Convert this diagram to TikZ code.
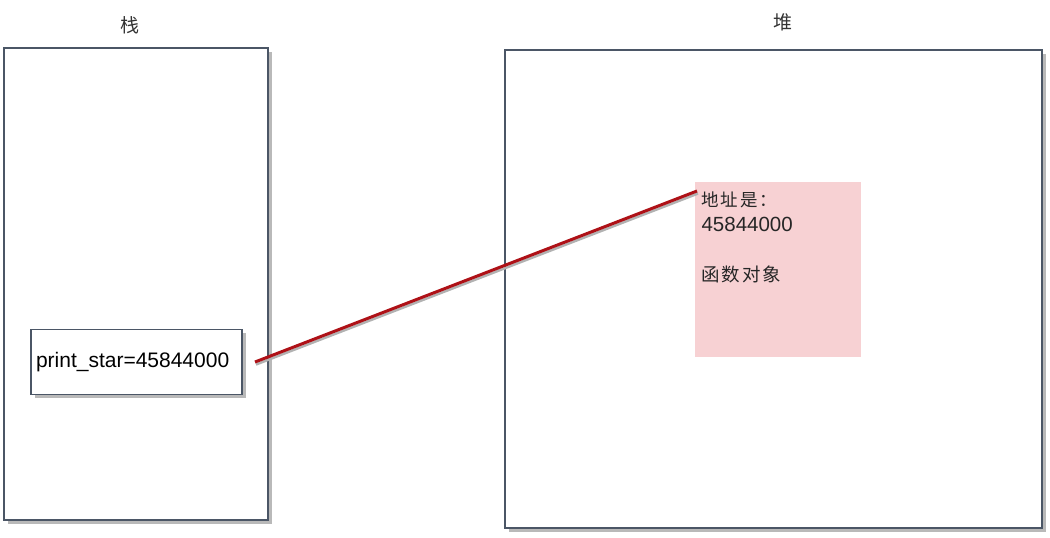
\documentclass[tikz,border=0pt]{standalone}
\usepackage{fontspec}
\setmainfont{Liberation Sans}
\newfontfamily\cjk{Noto Sans CJK SC}
\newfontfamily\cjkwide[LetterSpace=10]{Noto Sans CJK SC}
\usetikzlibrary{shadows}
\definecolor{framegray}{HTML}{4B5666}
\definecolor{objpink}{HTML}{F7D1D3}
\definecolor{ptrred}{HTML}{AE1117}

\begin{document}
\begin{tikzpicture}[x = 1pt, y = -1pt, line width = 1.1pt,
    region/.style = {rectangle, draw = framegray, fill = white, inner sep = 0pt, outer sep = 0pt,
        drop shadow = {shadow xshift = 3.5pt, shadow yshift = -3.5pt, opacity = 0.55}},
    title/.style = {font = \cjk\fontsize{19}{22}\selectfont, text = black!80},
    varbox/.style = {region, font = \fontsize{21}{25}\selectfont, text width = 201, align = left},
    objbox/.style = {rectangle, fill = objpink, inner sep = 0pt, outer sep = 0pt},
    objtext/.style = {anchor = west, inner sep = 0pt, text = black!85},
    pointer/.style = {draw = ptrred, line width = 3pt,
        preaction = {draw = gray!60, line width = 2.5pt, transform canvas = {shift = {(1pt,-2.5pt)}}}}]
\useasboundingbox (0,0) rectangle (1050,538);
\draw (130,25) node[title](stacktitle){栈}
    (783,22) node[title](heaptitle){堆}
    (136,284) node[region, minimum width = 264, minimum height = 472](stack){}
    (773.5,289) node[region, minimum width = 537, minimum height = 478](heap){}
    (136.5,362) node[varbox, minimum width = 211, minimum height = 65](var){print\_star=45844000}
    (778,269.5) node[objbox, minimum width = 166, minimum height = 175](obj){};
\draw (701,200) node[objtext, font = \cjkwide\fontsize{17.5}{20}\selectfont](addrlabel){地址是：}
    (701,224) node[objtext, font = \fontsize{20.5}{24}\selectfont](addr){45844000}
    (701,274) node[objtext, font = \cjkwide\fontsize{18.5}{21}\selectfont](kind){函数对象};
\draw [pointer] ([shift = {(13,0)}]var.east) -- ([shift = {(2,9)}]obj.north west);
\end{tikzpicture}
\end{document}
